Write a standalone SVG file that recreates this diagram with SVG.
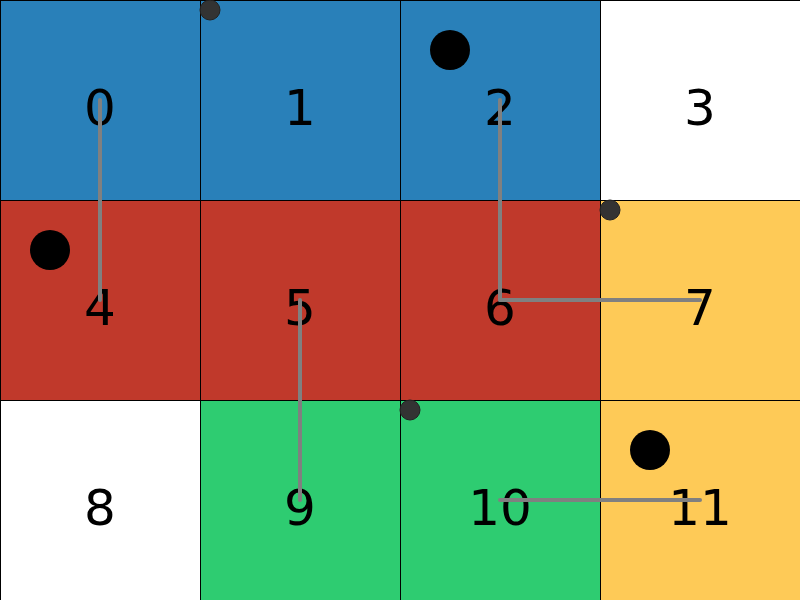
<svg xmlns="http://www.w3.org/2000/svg" width="800" height="600" viewBox="0 0 800 600">
<style>
.cell{stroke:#000;stroke-width:1;shape-rendering:crispEdges}
.b{fill:#2980b9}.r{fill:#c0392b}.y{fill:#feca57}.g{fill:#2ecc71}.w{fill:#fff}
.lbl{font-family:"DejaVu Sans",sans-serif;font-size:50px;text-anchor:middle;fill:#000}
.edge{stroke:#808080;stroke-width:4;stroke-linecap:round;fill:none}
.big{fill:#000}
.small{fill:#333;stroke:#222;stroke-width:1}
</style>
<g id="n0"><rect class="cell b" x="0" y="0" width="200" height="200"/><text class="lbl" x="100" y="125">0</text></g>
<g id="n1"><rect class="cell b" x="200" y="0" width="200" height="200"/><text class="lbl" x="300" y="125">1</text></g>
<g id="n2"><rect class="cell b" x="400" y="0" width="200" height="200"/><text class="lbl" x="500" y="125">2</text></g>
<g id="n3"><rect class="cell w" x="600" y="0" width="200" height="200"/><text class="lbl" x="700" y="125">3</text></g>
<g id="n4"><rect class="cell r" x="0" y="200" width="200" height="200"/><text class="lbl" x="100" y="325">4</text></g>
<g id="n5"><rect class="cell r" x="200" y="200" width="200" height="200"/><text class="lbl" x="300" y="325">5</text></g>
<g id="n6"><rect class="cell r" x="400" y="200" width="200" height="200"/><text class="lbl" x="500" y="325">6</text></g>
<g id="n7"><rect class="cell y" x="600" y="200" width="200" height="200"/><text class="lbl" x="700" y="325">7</text></g>
<g id="n8"><rect class="cell w" x="0" y="400" width="200" height="200"/><text class="lbl" x="100" y="525">8</text></g>
<g id="n9"><rect class="cell g" x="200" y="400" width="200" height="200"/><text class="lbl" x="300" y="525">9</text></g>
<g id="n10"><rect class="cell g" x="400" y="400" width="200" height="200"/><text class="lbl" x="500" y="525">10</text></g>
<g id="n11"><rect class="cell y" x="600" y="400" width="200" height="200"/><text class="lbl" x="700" y="525">11</text></g>
<g id="connectors">
<line class="edge" x1="100" y1="100" x2="100" y2="300"/>
<line class="edge" x1="500" y1="100" x2="500" y2="300"/>
<line class="edge" x1="500" y1="300" x2="700" y2="300"/>
<line class="edge" x1="300" y1="300" x2="300" y2="500"/>
<line class="edge" x1="500" y1="500" x2="700" y2="500"/>
</g>
<g id="markers">
<circle class="big" cx="450" cy="50" r="20"/>
<circle class="big" cx="50" cy="250" r="20"/>
<circle class="big" cx="650" cy="450" r="20"/>
<circle class="small" cx="210" cy="10" r="10"/>
<circle class="small" cx="610" cy="210" r="10"/>
<circle class="small" cx="410" cy="410" r="10"/>
</g>
</svg>
